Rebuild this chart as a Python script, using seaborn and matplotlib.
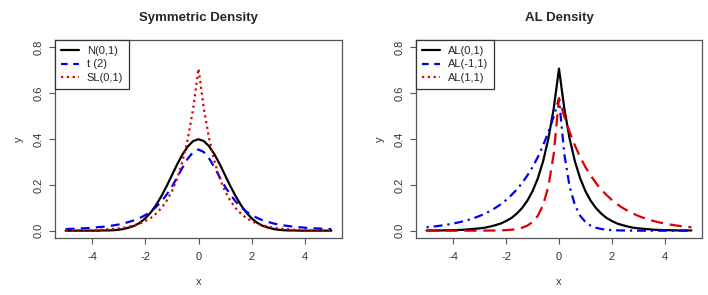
import matplotlib
matplotlib.use("Agg")
import matplotlib.pyplot as plt
from matplotlib.lines import Line2D
import seaborn as sns
import numpy as np

# ---- data ----
x_vals = [-5.0, -4.8, -4.6, -4.4, -4.2, -4.0, -3.8, -3.6, -3.4, -3.2, -3.0,
          -2.8, -2.6, -2.4, -2.2, -2.0, -1.8, -1.6, -1.4, -1.2, -1.0,
          -0.8, -0.6, -0.4, -0.2, 0.0, 0.2, 0.4, 0.6, 0.8, 1.0,
          1.2, 1.4, 1.6, 1.8, 2.0, 2.2, 2.4, 2.6, 2.8, 3.0,
          3.2, 3.4, 3.6, 3.8, 4.0, 4.2, 4.4, 4.6, 4.8, 5.0]

normal_y = [0.000, 0.000, 0.000, 0.000, 0.000, 0.000, 0.000, 0.001, 0.001, 0.002, 0.004,
            0.008, 0.014, 0.022, 0.035, 0.054, 0.079, 0.111, 0.150, 0.194, 0.242,
            0.290, 0.333, 0.368, 0.391, 0.399, 0.391, 0.368, 0.333, 0.290, 0.242,
            0.194, 0.150, 0.111, 0.079, 0.054, 0.035, 0.022, 0.014, 0.008, 0.004,
            0.002, 0.001, 0.001, 0.000, 0.000, 0.000, 0.000, 0.000, 0.000, 0.000]

t2_y = [0.007, 0.008, 0.009, 0.010, 0.011, 0.013, 0.015, 0.017, 0.020, 0.023, 0.027,
        0.032, 0.039, 0.046, 0.056, 0.068, 0.083, 0.103, 0.127, 0.157, 0.192,
        0.233, 0.276, 0.315, 0.343, 0.354, 0.343, 0.315, 0.276, 0.233, 0.192,
        0.157, 0.127, 0.103, 0.083, 0.068, 0.056, 0.046, 0.039, 0.032, 0.027,
        0.023, 0.020, 0.017, 0.015, 0.013, 0.011, 0.010, 0.009, 0.008, 0.007]

sl_y = [0.001, 0.001, 0.001, 0.001, 0.002, 0.002, 0.003, 0.004, 0.006, 0.008, 0.010,
        0.013, 0.018, 0.024, 0.031, 0.042, 0.055, 0.074, 0.098, 0.130, 0.172,
        0.228, 0.303, 0.402, 0.533, 0.707, 0.533, 0.402, 0.303, 0.228, 0.172,
        0.130, 0.098, 0.074, 0.055, 0.042, 0.031, 0.024, 0.018, 0.013, 0.010,
        0.008, 0.006, 0.004, 0.003, 0.002, 0.002, 0.001, 0.001, 0.001, 0.001]

al_0_y = sl_y

al_pos_y = [0.000, 0.000, 0.000, 0.000, 0.000, 0.000, 0.000, 0.000, 0.000, 0.000, 0.000,
            0.0003, 0.0005, 0.0008, 0.0014, 0.0024, 0.0042, 0.0073, 0.0126, 0.0217, 0.0375,
            0.0648, 0.112, 0.193, 0.334, 0.577, 0.498, 0.431, 0.372, 0.321, 0.277,
            0.240, 0.207, 0.179, 0.155, 0.1335, 0.115, 0.0996, 0.086, 0.0743, 0.0642,
            0.0555, 0.0479, 0.0414, 0.0358, 0.0309, 0.0267, 0.0230, 0.0199, 0.0172, 0.0148]

al_neg_y = [0.0148, 0.0172, 0.0199, 0.0230, 0.0267, 0.0309, 0.0358, 0.0414, 0.0479, 0.0555, 0.0642,
            0.0743, 0.086, 0.0996, 0.115, 0.1335, 0.155, 0.179, 0.207, 0.240, 0.277,
            0.321, 0.372, 0.431, 0.498, 0.577, 0.334, 0.193, 0.112, 0.0648, 0.0375,
            0.0217, 0.0126, 0.0073, 0.0042, 0.0024, 0.0014, 0.0008, 0.0005, 0.0003, 0.000,
            0.000, 0.000, 0.000, 0.000, 0.000, 0.000, 0.000, 0.000, 0.000, 0.000]

titles = ["Symmetric Density", "AL Density"]
left_labels = ["N(0,1)", "t (2)", "SL(0,1)"]
right_labels = ["AL(0,1)", "AL(-1,1)", "AL(1,1)"]
x_ticks = [-4, -2, 0, 2, 4]
y_ticks = [0.0, 0.2, 0.4, 0.6, 0.8]

# ---- styling ----
sns.set_style("white")
plt.rcParams["font.family"] = ["Liberation Sans", "DejaVu Sans"]

W, H = 708, 295
fig = plt.figure(figsize=(W / 100, H / 100), dpi=100)

def px_axes(left, top, right, bottom):
    return fig.add_axes([left / W, 1 - bottom / H, (right - left) / W, (bottom - top) / H])

ax1 = px_axes(55, 40, 342, 238)
ax2 = px_axes(416, 40, 702, 238)

blue = "#0000EE"
red = "#DD0000"
lw = 1.6

dash_t = (0, (4, 2.8))
dot_sl = (0, (1, 1.6))
dotdash = (0, (1, 2.2, 4, 2.2))
longdash = (0, (5.5, 3))

# left panel
sns.lineplot(x=x_vals, y=normal_y, ax=ax1, color="black", lw=lw)
sns.lineplot(x=x_vals, y=t2_y, ax=ax1, color=blue, lw=lw, linestyle=dash_t)
sns.lineplot(x=x_vals, y=sl_y, ax=ax1, color=red, lw=lw, linestyle=dot_sl)

# right panel
sns.lineplot(x=x_vals, y=al_0_y, ax=ax2, color="black", lw=lw)
sns.lineplot(x=x_vals, y=al_neg_y, ax=ax2, color=blue, lw=lw, linestyle=dotdash)
sns.lineplot(x=x_vals, y=al_pos_y, ax=ax2, color=red, lw=lw, linestyle=longdash)

for ax, title, labels in [(ax1, titles[0], left_labels), (ax2, titles[1], right_labels)]:
    ax.set_xlim(-5.4, 5.4)
    ax.set_ylim(-0.032, 0.832)
    ax.set_xticks(x_ticks)
    ax.set_xticklabels([f"{t:d}" for t in x_ticks])
    ax.set_yticks(y_ticks)
    ax.set_yticklabels([f"{t:.1f}" for t in y_ticks], rotation=90, va="center")
    ax.tick_params(axis="both", which="major", direction="out", length=4, width=0.8,
                   color="#555555", labelsize=8, labelcolor="#333333",
                   bottom=True, left=True, top=False, right=False)
    ax.tick_params(axis="x", pad=6)
    ax.tick_params(axis="y", pad=4)
    for s in ax.spines.values():
        s.set_visible(True)
        s.set_color("#555555")
        s.set_linewidth(0.9)
    ax.set_title(title, fontsize=9.5, fontweight="bold", pad=14)
    ax.set_xlabel("x", fontsize=8, color="#333333", labelpad=11)
    ax.set_ylabel("y", fontsize=8, color="#333333", labelpad=7)
    handles = [
        Line2D([], [], color="black", lw=lw),
        Line2D([], [], color=blue, lw=lw, linestyle=(0, (3, 2.5))),
        Line2D([], [], color=red, lw=lw, linestyle=(0, (1, 1.6))),
    ]
    leg = ax.legend(handles, labels, loc="upper left", fontsize=8, frameon=True,
                    fancybox=False, framealpha=1, edgecolor="#333333",
                    borderaxespad=0, handlelength=1.6, handletextpad=0.7,
                    labelspacing=0.3, borderpad=0.55)
    leg.get_frame().set_linewidth(0.9)

fig.savefig("out.png", dpi=100)
